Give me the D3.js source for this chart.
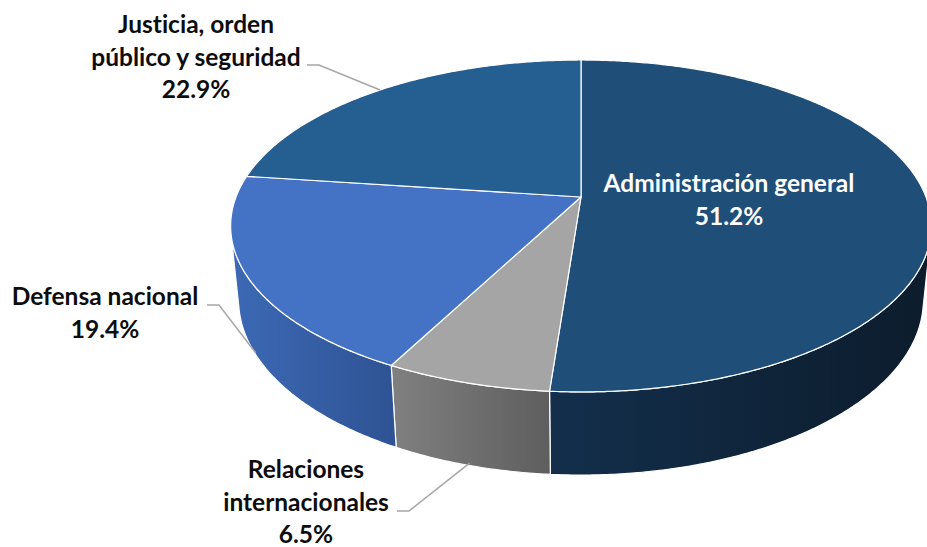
<!DOCTYPE html>
<html>
<head>
<meta charset="utf-8">
<script src="https://cdn.jsdelivr.net/npm/d3@7"></script>
<style>
  body { margin: 0; background: #fff; }
  svg text { font-family: Lato, "Open Sans", sans-serif; font-weight: 700; font-variant-ligatures: none; }
</style>
</head>
<body>
<svg id="chart" width="927" height="547"></svg>
<script>
"use strict";

// data
var categories = ["Administración general", "Relaciones internacionales", "Defensa nacional", "Justicia, orden público y seguridad"];
var shares = [51.2, 6.5, 19.4, 22.9];
var labelLines = [["Administración general"], ["Relaciones", "internacionales"], ["Defensa nacional"], ["Justicia, orden", "público y seguridad"]];

// palette (top face, side gradient light -> dark)
var topColors = ["#1f4e79", "#a5a5a5", "#4472c4", "#255e91"];
var sideColors = [["#132f4c", "#0c1c2c"], ["#808080", "#5e5e5e"], ["#3d69b5", "#2e5394"], ["#1c4870", "#17395a"]];

var config = {
  cx: 581, cy: 197,        // screen position of pie centre
  focal: 1749, dist: 5.07, // perspective camera
  tilt: 27.8 * Math.PI / 180,
  thickness: 0.2456,
  fontSize: 24.5, lineHeight: 32.5
};

// label placement (centre x, first baseline, leader start)
var labelLayout = [
  { x: 729, y: 192, fill: "#ffffff" },
  { x: 306, y: 478, fill: "#0d0d0d", leader: [397, 511] },
  { x: 105, y: 305, fill: "#0d0d0d", leader: [207, 305] },
  { x: 196, y: 33,  fill: "#0d0d0d", leader: [307, 65] }
];

var sinT = Math.sin(config.tilt), cosT = Math.cos(config.tilt);

// angle clockwise from the back of the disc, y = 0 top face, negative = below
function project(theta, y) {
  var x = Math.sin(theta), z = -Math.cos(theta);
  var camY = y * cosT - z * sinT;
  var d = config.dist - (y * sinT + z * cosT);
  return [config.cx + config.focal * x / d, config.cy - config.focal * camY / d];
}

function rim(a0, a1, y) {
  var n = Math.max(2, Math.ceil((a1 - a0) / (Math.PI / 360)));
  return d3.range(n + 1).map(function(i) { return project(a0 + (a1 - a0) * i / n, y); });
}

// visible part of the cylinder wall
var visEdge = Math.acos(-1 / (config.dist * cosT));
var visStart = visEdge, visEnd = 2 * Math.PI - visEdge;

var pie = d3.pie().sort(null).startAngle(0).endAngle(2 * Math.PI);
var arcs = pie(shares);

var svg = d3.select("#chart");
var defs = svg.append("defs");
var line = d3.line();

sideColors.forEach(function(c, i) {
  var g = defs.append("linearGradient")
    .attr("id", "side" + i)
    .attr("x1", 0).attr("x2", 1).attr("y1", 0).attr("y2", 0);
  g.append("stop").attr("offset", "0%").attr("stop-color", c[0]);
  g.append("stop").attr("offset", "100%").attr("stop-color", c[1]);
});

var h = -config.thickness;

// side walls
var sides = svg.append("g");
arcs.forEach(function(a, i) {
  var s = Math.max(a.startAngle, visStart), e = Math.min(a.endAngle, visEnd);
  if (e <= s) return;
  var pts = rim(s, e, 0).concat(rim(s, e, h).reverse());
  sides.append("path")
    .attr("d", line(pts) + "Z")
    .attr("fill", "url(#side" + i + ")")
    .attr("stroke", "#ffffff")
    .attr("stroke-width", 1.2)
    .attr("stroke-linejoin", "round");
});

// top faces
var tops = svg.append("g");
arcs.forEach(function(a, i) {
  var pts = [[config.cx, config.cy]].concat(rim(a.startAngle, a.endAngle, 0));
  tops.append("path")
    .attr("d", line(pts) + "Z")
    .attr("fill", topColors[i])
    .attr("stroke", "#ffffff")
    .attr("stroke-width", 1.2)
    .attr("stroke-linejoin", "round");
});

// labels and leaders
var fmt = d3.format(".1f");
var labels = svg.append("g");
arcs.forEach(function(a, i) {
  var lay = labelLayout[i];
  var mid = (a.startAngle + a.endAngle) / 2;
  if (lay.leader) {
    var front = mid > visStart && mid < visEnd;
    var end = project(mid, front ? h * 0.97 : 0);
    labels.append("path")
      .attr("d", line([lay.leader, [lay.leader[0] + 12, lay.leader[1]], end]))
      .attr("fill", "none")
      .attr("stroke", "#a6a6a6")
      .attr("stroke-width", 1.5);
  }
  var t = labels.append("text")
    .attr("text-anchor", "middle")
    .attr("fill", lay.fill)
    .style("font-size", config.fontSize + "px")
    .attr("aria-label", categories[i]);
  labelLines[i].concat([fmt(a.data) + "%"]).forEach(function(str, k) {
    t.append("tspan")
      .attr("x", lay.x)
      .attr("y", lay.y + k * config.lineHeight)
      .text(str);
  });
});
</script>
</body>
</html>
